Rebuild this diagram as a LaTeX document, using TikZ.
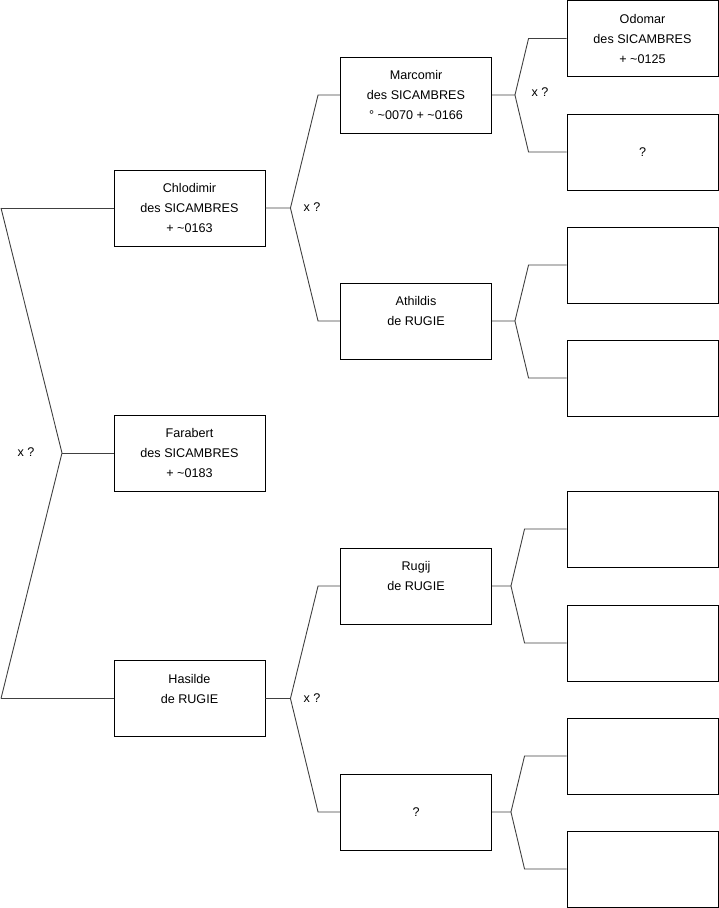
\documentclass[tikz,border=0pt]{standalone}
\usepackage{fontspec}
\setmainfont{Liberation Sans}

\begin{document}
\begin{tikzpicture}[x=1pt, y=-1pt, font=\fontsize{12.6}{20}\selectfont,
  persona/.style={draw=black, line width=0.9pt, fill=white, minimum width=151pt,
    minimum height=76pt, inner sep=0pt, align=center},
  rama/.style={draw=black!75, line width=0.9pt}]
  \useasboundingbox (0,0) rectangle (719,908);

  % generation 1
  \node[persona] (chlodimir) at (189.5,208) {Chlodimir\\des SICAMBRES\\+ \textasciitilde0163};
  \node[persona] (farabert) at (189.5,453) {Farabert\\des SICAMBRES\\+ \textasciitilde0183};
  \node[persona] (hasilde) at (189.5,698.5) {Hasilde\\de RUGIE\\\phantom{X}};

  % generation 2
  \node[persona] (marcomir) at (416,95) {Marcomir\\des SICAMBRES\\° \textasciitilde0070 + \textasciitilde0166};
  \node[persona] (athildis) at (416,321) {Athildis\\de RUGIE\\\phantom{X}};
  \node[persona] (rugij) at (416,586) {Rugij\\de RUGIE\\\phantom{X}};
  \node[persona] (inconnu) at (416,812) {?};

  % generation 3
  \node[persona] (odomar) at (642.5,38.5) {Odomar\\des SICAMBRES\\+ \textasciitilde0125};
  \node[persona] (anc2) at (642.5,152) {?};
  \foreach \n/\y in {3/265,4/378,5/529,6/643,7/756,8/869}
    \node[persona] (anc\n) at (642.5,\y) {};

  % root
  \coordinate (raizA) at (1,208);
  \coordinate (raiz) at (62,453);
  \coordinate (raizB) at (1,698.5);
  \draw[rama] (raizA) -- (chlodimir.west);
  \draw[rama] (raizB) -- (hasilde.west);
  \draw[rama] (raizA) -- (raiz) -- (raizB);
  \draw[rama] (raiz) -- (farabert.west);
  \node (xraiz) at (26,452) {x ?};

  % forks parent -> father / mother
  \foreach \p/\d/\e/\a/\b in {chlodimir/25/22/marcomir/athildis, hasilde/25/22/rugij/inconnu,
      marcomir/23/38/odomar/anc2, athildis/23/38/anc3/anc4,
      rugij/19/42/anc5/anc6, inconnu/19/42/anc7/anc8} {
    \draw[rama] (\p.east) -- ++(\d,0) coordinate (v\p)
      -- ([xshift=-\e pt]\a.west) -- (\a.west);
    \draw[rama] (v\p) -- ([xshift=-\e pt]\b.west) -- (\b.west);
  }

  \node (xchlodimir) at (312,207) {x ?};
  \node (xmarcomir) at (540,92) {x ?};
  \node (xhasilde) at (312,698) {x ?};
\end{tikzpicture}
\end{document}
